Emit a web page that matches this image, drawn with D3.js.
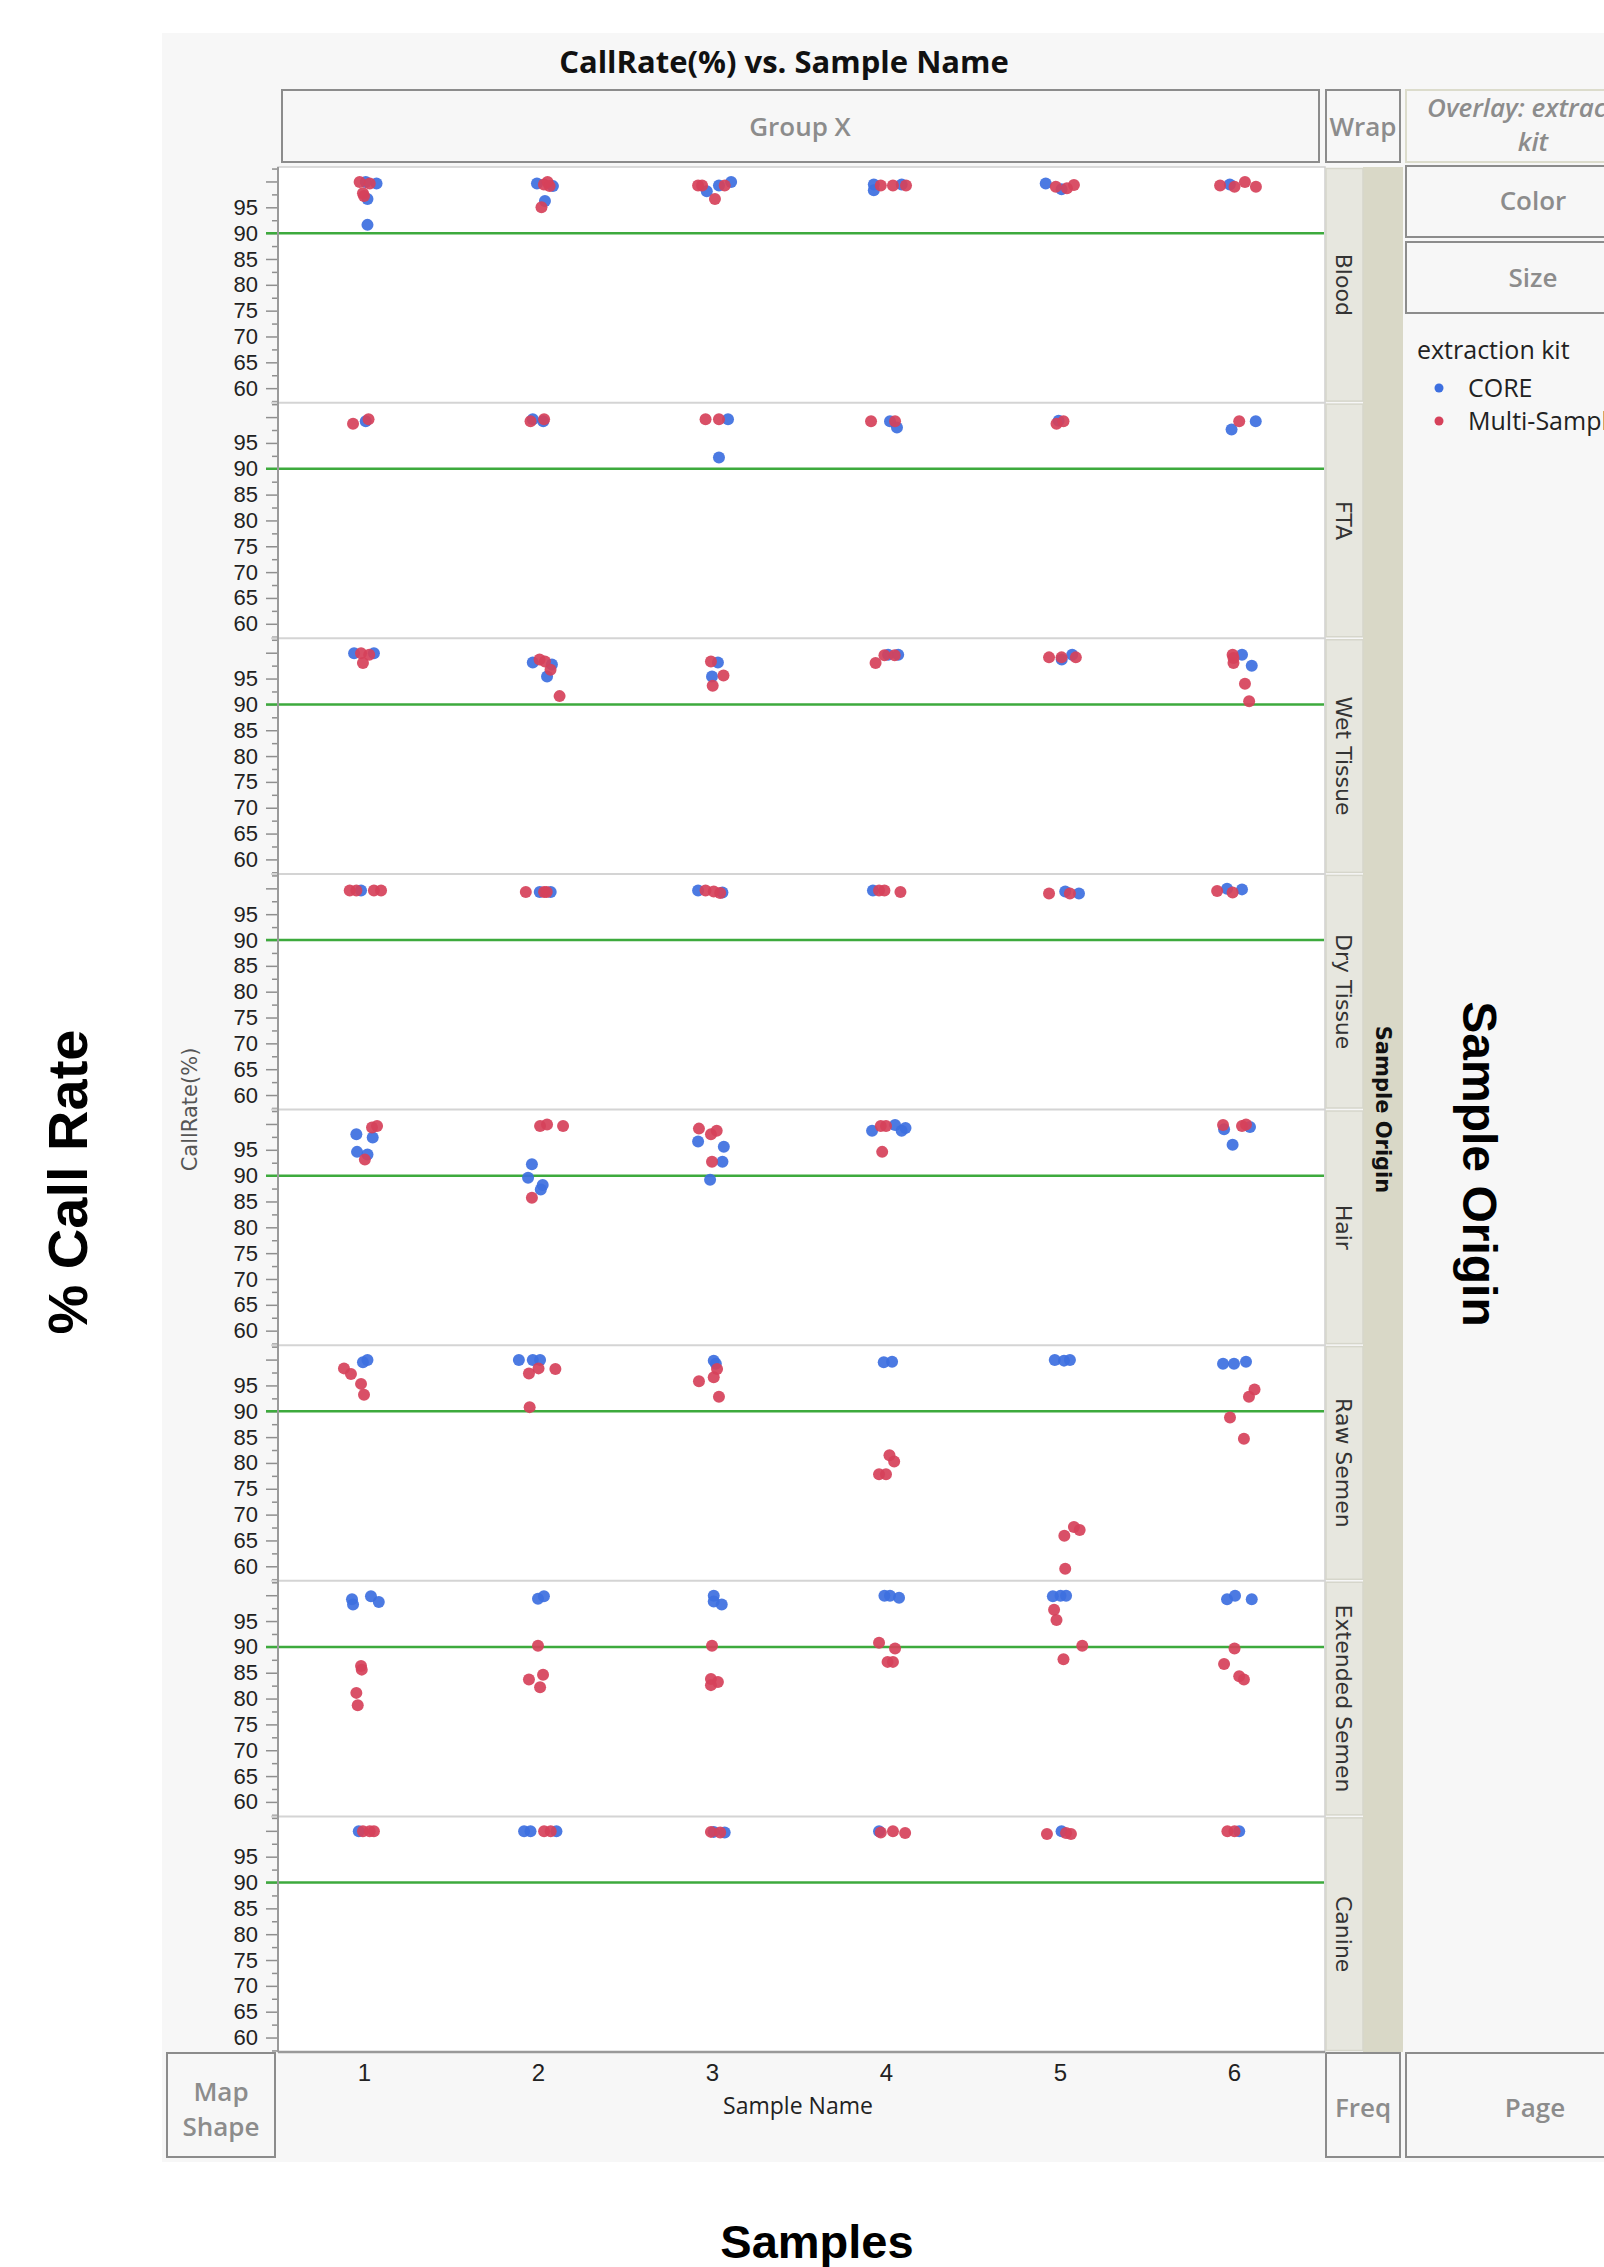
<!DOCTYPE html>
<html>
<head>
<meta charset="utf-8">
<script src="https://cdn.jsdelivr.net/npm/d3@7"></script>
<style>
body { margin: 0; background: #fff; }
</style>
</head>
<body>
<svg id="chart" width="1604" height="2267"></svg>
<script>
// ---- data ----
var origins = ["Blood", "FTA", "Wet Tissue", "Dry Tissue", "Hair", "Raw Semen", "Extended Semen", "Canine"];
var samples = [1, 2, 3, 4, 5, 6];
var kits = ["CORE", "Multi-Sample"];
var kitCodes = ["C", "M"];
var yTicks = [60, 65, 70, 75, 80, 85, 90, 95, 100];
var yMinorTicks = [57.5, 62.5, 67.5, 72.5, 77.5, 82.5, 87.5, 92.5, 97.5, 102.5];
var threshold = 90;

// rows: [sample, kit, callRate, jitter (in sample units)]
var blood = [
  [1,"M",99.9,-0.025],[1,"C",99.9,0.01],[1,"M",99.6,0.033],[1,"C",99.6,0.072],[1,"M",97.7,-0.006],[1,"M",97.2,0.0],[1,"C",96.6,0.02],[1,"C",91.6,0.02],
  [2,"C",99.6,-0.006],[2,"M",99.4,0.034],[2,"M",99.9,0.055],[2,"C",99.1,0.086],[2,"M",99.1,0.067],[2,"C",96.2,0.04],[2,"M",95.0,0.02],
  [3,"M",99.2,-0.08],[3,"M",99.2,-0.057],[3,"C",98.1,-0.03],[3,"C",99.2,0.04],[3,"M",99.2,0.073],[3,"C",99.9,0.11],[3,"M",96.6,0.017],
  [4,"C",99.4,-0.07],[4,"C",98.3,-0.07],[4,"M",99.2,-0.03],[4,"M",99.2,0.04],[4,"C",99.4,0.09],[4,"M",99.2,0.115],
  [5,"C",99.6,-0.082],[5,"M",99.0,-0.024],[5,"C",98.5,0.009],[5,"M",98.7,0.04],[5,"M",99.3,0.08],
  [6,"M",99.2,-0.08],[6,"C",99.4,-0.024],[6,"M",99.0,0.003],[6,"M",99.9,0.063],[6,"M",99.0,0.126]
];
var fta = [
  [1,"M",98.7,-0.063],[1,"C",99.2,0.01],[1,"M",99.6,0.026],
  [2,"M",99.2,-0.043],[2,"C",99.6,-0.03],[2,"C",99.2,0.03],[2,"M",99.6,0.035],
  [3,"M",99.6,-0.037],[3,"M",99.6,0.04],[3,"C",99.6,0.092],[3,"C",92.2,0.04],
  [4,"M",99.2,-0.086],[4,"C",99.2,0.023],[4,"M",99.2,0.052],[4,"C",98.0,0.063],
  [5,"M",98.7,-0.02],[5,"C",99.3,-0.008],[5,"M",99.2,0.02],
  [6,"C",97.6,-0.014],[6,"M",99.2,0.03],[6,"C",99.2,0.125]
];
var wetTissue = [
  [1,"C",99.9,-0.057],[1,"M",99.9,-0.017],[1,"M",98.0,-0.006],[1,"M",99.6,0.03],[1,"C",99.9,0.057],
  [2,"C",98.1,-0.03],[2,"M",98.7,0.009],[2,"M",98.3,0.04],[2,"C",97.7,0.08],[2,"M",96.7,0.072],[2,"C",95.4,0.052],[2,"M",91.6,0.124],
  [3,"M",98.3,-0.006],[3,"C",98.1,0.034],[3,"C",95.4,0.0],[3,"M",95.6,0.066],[3,"M",93.6,0.004],
  [4,"M",98.0,-0.06],[4,"M",99.5,-0.009],[4,"C",99.6,0.012],[4,"M",99.5,0.05],[4,"C",99.6,0.07],
  [5,"M",99.1,-0.063],[5,"C",98.7,0.01],[5,"M",99.1,0.009],[5,"C",99.6,0.07],[5,"M",99.1,0.091],
  [6,"M",99.6,-0.008],[6,"M",98.0,-0.003],[6,"M",99.0,-0.003],[6,"C",99.6,0.046],[6,"C",97.5,0.102],[6,"M",94.0,0.063],[6,"M",90.6,0.087]
];
var dryTissue = [
  [1,"M",99.6,-0.082],[1,"M",99.6,-0.044],[1,"C",99.6,-0.017],[1,"M",99.6,0.057],[1,"M",99.6,0.098],
  [2,"M",99.3,-0.07],[2,"C",99.3,0.01],[2,"M",99.3,0.035],[2,"M",99.3,0.05],[2,"C",99.3,0.073],
  [3,"C",99.6,-0.08],[3,"M",99.6,-0.037],[3,"M",99.4,0.01],[3,"M",99.1,0.047],[3,"C",99.2,0.06],
  [4,"C",99.6,-0.075],[4,"M",99.6,-0.04],[4,"M",99.6,-0.009],[4,"M",99.3,0.083],
  [5,"M",99.0,-0.063],[5,"C",99.4,0.03],[5,"M",99.0,0.057],[5,"C",99.0,0.109],
  [6,"M",99.5,-0.097],[6,"C",99.9,-0.04],[6,"M",99.2,-0.008],[6,"C",99.8,0.046]
];
var hair = [
  [1,"C",98.0,-0.044],[1,"C",97.4,0.05],[1,"M",99.3,0.046],[1,"M",99.6,0.075],[1,"C",94.6,-0.04],[1,"C",94.1,0.02],[1,"M",93.1,0.005],
  [2,"M",99.6,0.012],[2,"M",99.9,0.052],[2,"M",99.6,0.144],[2,"C",92.2,-0.035],[2,"C",89.6,-0.057],[2,"C",88.2,0.027],[2,"C",87.3,0.016],[2,"M",85.7,-0.035],
  [3,"M",99.1,-0.075],[3,"M",98.0,-0.006],[3,"M",98.7,0.027],[3,"C",96.6,-0.08],[3,"C",95.6,0.068],[3,"M",92.7,0.0],[3,"C",92.7,0.06],[3,"C",89.2,-0.011],
  [4,"C",98.7,-0.08],[4,"M",99.6,-0.03],[4,"M",99.6,0.0],[4,"C",99.8,0.052],[4,"C",98.7,0.09],[4,"C",99.2,0.112],[4,"M",94.6,-0.022],
  [6,"M",99.8,-0.063],[6,"C",99.0,-0.057],[6,"M",99.6,0.046],[6,"M",99.9,0.069],[6,"C",99.4,0.092],[6,"C",96.0,-0.008]
];
var rawSemen = [
  [1,"C",99.5,-0.006],[1,"C",99.9,0.02],[1,"M",98.3,-0.115],[1,"M",97.2,-0.075],[1,"M",95.3,-0.017],[1,"M",93.2,0.0],
  [2,"C",99.9,-0.11],[2,"C",99.9,-0.03],[2,"C",99.9,0.012],[2,"M",98.3,0.003],[2,"M",97.3,-0.052],[2,"M",98.2,0.1],[2,"M",90.8,-0.048],
  [3,"C",99.8,0.01],[3,"C",99.2,0.022],[3,"M",98.2,0.029],[3,"M",96.6,0.01],[3,"M",95.8,-0.075],[3,"M",92.8,0.04],
  [4,"C",99.5,-0.013],[4,"C",99.6,0.035],[4,"M",81.5,0.02],[4,"M",80.3,0.047],[4,"M",77.8,-0.04],[4,"M",77.8,0.0],
  [5,"C",99.9,-0.03],[5,"C",99.8,0.023],[5,"C",99.9,0.057],[5,"M",67.6,0.08],[5,"M",67.0,0.113],[5,"M",65.9,0.025],[5,"M",59.5,0.03],
  [6,"C",99.2,-0.063],[6,"C",99.2,0.0],[6,"C",99.6,0.069],[6,"M",94.2,0.118],[6,"M",92.8,0.086],[6,"M",88.8,-0.023],[6,"M",84.7,0.057]
];
var extendedSemen = [
  [1,"C",99.2,-0.069],[1,"C",98.2,-0.063],[1,"C",99.8,0.04],[1,"C",98.7,0.085],[1,"M",86.3,-0.017],[1,"M",85.6,-0.013],[1,"M",81.1,-0.044],[1,"M",78.7,-0.036],
  [2,"C",99.3,0.0],[2,"C",99.8,0.034],[2,"M",90.2,0.0],[2,"M",84.6,0.029],[2,"M",83.7,-0.052],[2,"M",82.2,0.012],
  [3,"C",99.9,0.01],[3,"C",98.8,0.01],[3,"C",98.2,0.056],[3,"M",90.2,0.0],[3,"M",83.8,-0.006],[3,"M",83.2,0.034],[3,"M",82.6,-0.006],
  [4,"C",99.9,-0.009],[4,"C",99.9,0.023],[4,"C",99.5,0.075],[4,"M",90.8,-0.04],[4,"M",89.7,0.052],[4,"M",87.1,0.009],[4,"M",87.1,0.04],
  [5,"C",99.8,-0.041],[5,"C",99.9,0.003],[5,"C",99.9,0.035],[5,"M",97.2,-0.034],[5,"M",95.2,-0.02],[5,"M",90.2,0.128],[5,"M",87.6,0.02],
  [6,"C",99.2,-0.04],[6,"C",99.9,0.006],[6,"C",99.2,0.102],[6,"M",89.7,0.003],[6,"M",86.7,-0.057],[6,"M",84.3,0.03],[6,"M",83.7,0.057]
];
var canine = [
  [1,"C",99.9,-0.03],[1,"M",99.9,-0.006],[1,"M",99.9,0.033],[1,"M",99.9,0.057],
  [2,"C",99.9,-0.08],[2,"C",99.9,-0.043],[2,"C",99.9,0.106],[2,"M",99.9,0.035],[2,"M",99.9,0.073],
  [3,"C",99.8,0.01],[3,"C",99.7,0.073],[3,"M",99.8,-0.006],[3,"M",99.7,0.047],
  [4,"C",99.9,-0.04],[4,"M",99.7,-0.03],[4,"M",99.9,0.04],[4,"M",99.6,0.11],
  [5,"M",99.4,-0.075],[5,"C",99.9,0.009],[5,"M",99.6,0.035],[5,"M",99.4,0.063],
  [6,"M",99.9,-0.038],[6,"M",99.9,0.003],[6,"C",99.9,0.03]
];
var panelData = [blood, fta, wetTissue, dryTissue, hair, rawSemen, extendedSemen, canine];

// ---- layout ----
var svg = d3.select("#chart");
var plotL = 278, plotR = 1325, plotT = 167, plotB = 2052;
var panelH = (plotB - plotT) / origins.length;
var uiFont = "'Open Sans', 'Noto Sans', sans-serif";
var tickFont = "'Liberation Sans', Arial, sans-serif";
var labFont = "'DejaVu Sans', sans-serif";
var boxGray = "#8c8c8c";

var kitColor = d3.scaleOrdinal().domain(kitCodes).range(["#3d6fe0", "#d6415a"]);
var x = d3.scaleLinear().domain([0.5, 6.5]).range([277, 1321]);

function box(x0, y0, w, h, stroke) {
  svg.append("rect").attr("x", x0).attr("y", y0).attr("width", w).attr("height", h)
    .style("fill", "#f7f7f7").style("stroke", stroke || boxGray).style("stroke-width", 2);
}
function boxText(t, cx, cy, size, italic) {
  svg.append("text").attr("x", cx).attr("y", cy).attr("dy", "0.35em").attr("text-anchor", "middle")
    .text(t).style("font-family", uiFont).style("font-size", size + "px").style("font-weight", "600")
    .style("font-style", italic ? "italic" : "normal").style("fill", "#8c8c8c");
}

// background of the graph builder
svg.append("rect").attr("x", 162).attr("y", 33).attr("width", 1442).attr("height", 2129).style("fill", "#f7f7f7");

svg.append("text").attr("x", 784).attr("y", 73).attr("text-anchor", "middle").text("CallRate(%) vs. Sample Name")
  .style("font-family", uiFont).style("font-weight", "700").style("font-size", "31px").style("fill", "#111");

// drop zones
box(282, 90, 1037, 72); boxText("Group X", 800, 127, 26);
box(1326, 90, 74, 72); boxText("Wrap", 1363, 127, 26);
box(1406, 90, 280, 72, "#dcdccc");
boxText("Overlay: extraction", 1540, 108, 26, true);
boxText("kit", 1533, 142, 26, true);
box(1406, 166, 280, 71); boxText("Color", 1533, 201, 26);
box(1406, 242, 280, 71); boxText("Size", 1533, 278, 26);
box(167, 2053, 108, 104); boxText("Map", 221, 2092, 26); boxText("Shape", 221, 2127, 26);
box(1326, 2053, 74, 104); boxText("Freq", 1363, 2108, 26);
box(1406, 2053, 280, 104); boxText("Page", 1535, 2108, 26);

// legend
svg.append("text").attr("x", 1417).attr("y", 350).attr("dy", "0.35em").text("extraction kit")
  .style("font-family", uiFont).style("font-size", "25px").style("fill", "#222");
kits.forEach(function(k, i) {
  svg.append("circle").attr("cx", 1439).attr("cy", 388 + i * 33).attr("r", 4.5).style("fill", kitColor(kitCodes[i]));
  svg.append("text").attr("x", 1468).attr("y", 388 + i * 33).attr("dy", "0.35em").text(k)
    .style("font-family", uiFont).style("font-size", "25px").style("fill", "#222");
});

// plot area
svg.append("rect").attr("x", plotL).attr("y", plotT).attr("width", plotR - plotL).attr("height", plotB - plotT)
  .style("fill", "#fff").style("stroke", "#cfcfcf").style("stroke-width", 1.5);

// strip column
svg.append("rect").attr("x", 1363).attr("y", plotT).attr("width", 40).attr("height", plotB - plotT).style("fill", "#d9d8c7");
svg.append("text").attr("transform", "translate(1383," + ((plotT + plotB) / 2) + ") rotate(90)")
  .attr("text-anchor", "middle").attr("dy", "0.35em").text("Sample Origin")
  .style("font-family", labFont).style("font-weight", "bold").style("font-size", "21px").style("fill", "#111");

origins.forEach(function(o, i) {
  var top = plotT + i * panelH;
  var y = d3.scaleLinear().domain([57.2, 102.8]).range([top + panelH, top]);
  var g = svg.append("g");

  // strip cell
  g.append("rect").attr("x", 1326).attr("y", top + 1.5).attr("width", 37).attr("height", panelH - 3)
    .style("fill", "#e7e7df").style("stroke", "#d6d6cb").style("stroke-width", 1.5);
  g.append("text").attr("transform", "translate(1344," + (top + panelH / 2) + ") rotate(90)")
    .attr("text-anchor", "middle").attr("dy", "0.35em").text(o)
    .style("font-family", labFont).style("font-size", "22px").style("fill", "#333");

  // panel separator
  if (i > 0) {
    g.append("line").attr("x1", 271).attr("x2", plotR).attr("y1", top).attr("y2", top)
      .style("stroke", "#d4d4d4").style("stroke-width", 2);
  }

  // y axis
  var ax = g.append("g").attr("transform", "translate(" + plotL + ",0)")
    .call(d3.axisLeft(y).tickValues(yTicks).tickSize(12).tickPadding(8)
      .tickFormat(function(d) { return d === 100 ? "" : d; }));
  ax.select(".domain").remove();
  ax.selectAll("line").style("stroke", "#8f8f8f").style("stroke-width", 1.5);
  ax.selectAll("text").style("font-family", tickFont).style("font-size", "22px").style("fill", "#222");
  var mx = g.append("g").attr("transform", "translate(" + plotL + ",0)")
    .call(d3.axisLeft(y).tickValues(yMinorTicks).tickSize(6).tickFormat(""));
  mx.select(".domain").remove();
  mx.selectAll("line").style("stroke", "#8f8f8f").style("stroke-width", 1.5);

  // threshold line
  g.append("line").attr("x1", plotL - 12).attr("x2", plotR - 1).attr("y1", y(threshold)).attr("y2", y(threshold))
    .style("stroke", "#3daa3d").style("stroke-width", 2.5);

  // points: CORE first, Multi-Sample on top
  var pts = panelData[i].slice().sort(function(a, b) { return kitCodes.indexOf(a[1]) - kitCodes.indexOf(b[1]); });
  g.selectAll("circle").data(pts).enter().append("circle")
    .attr("cx", function(d) { return x(d[0] + d[3]); })
    .attr("cy", function(d) { return y(d[2]); })
    .attr("r", 6)
    .style("fill", function(d) { return kitColor(d[1]); })
    .style("fill-opacity", 0.92);
});

// y axis line and bottom frame
svg.append("line").attr("x1", plotL).attr("x2", plotL).attr("y1", plotT).attr("y2", plotB)
  .style("stroke", "#9a9a9a").style("stroke-width", 2);
svg.append("line").attr("x1", plotL).attr("x2", plotR).attr("y1", plotB).attr("y2", plotB)
  .style("stroke", "#9a9a9a").style("stroke-width", 2.5);

// x axis
var xa = svg.append("g").attr("transform", "translate(0," + plotB + ")")
  .call(d3.axisBottom(x).tickValues(samples).tickSize(0).tickPadding(12).tickFormat(d3.format("d")));
xa.select(".domain").remove();
xa.selectAll("text").style("font-family", tickFont).style("font-size", "24px").style("fill", "#222");

svg.append("text").attr("x", 798).attr("y", 2106).attr("dy", "0.35em").attr("text-anchor", "middle").text("Sample Name")
  .style("font-family", uiFont).style("font-size", "23px").style("fill", "#222");
svg.append("text").attr("transform", "translate(190," + ((plotT + plotB) / 2) + ") rotate(-90)")
  .attr("text-anchor", "middle").attr("dy", "0.35em").text("CallRate(%)")
  .style("font-family", labFont).style("font-size", "21px").style("fill", "#555");

// outer annotations
svg.append("text").attr("transform", "translate(67,1182) rotate(-90)").attr("text-anchor", "middle").attr("dy", "0.35em")
  .text("% Call Rate").style("font-family", "'Liberation Sans', Arial, sans-serif").style("font-weight", "bold")
  .style("font-size", "56px").style("fill", "#000");
svg.append("text").attr("transform", "translate(1480,1164) rotate(90)").attr("text-anchor", "middle").attr("dy", "0.35em")
  .text("Sample Origin").style("font-family", "'Liberation Sans', Arial, sans-serif").style("font-weight", "bold")
  .style("font-size", "48px").style("fill", "#000");
svg.append("text").attr("x", 817).attr("y", 2258).attr("text-anchor", "middle")
  .text("Samples").style("font-family", "'Liberation Sans', Arial, sans-serif").style("font-weight", "bold")
  .style("font-size", "47px").style("fill", "#000");
</script>
</body>
</html>
